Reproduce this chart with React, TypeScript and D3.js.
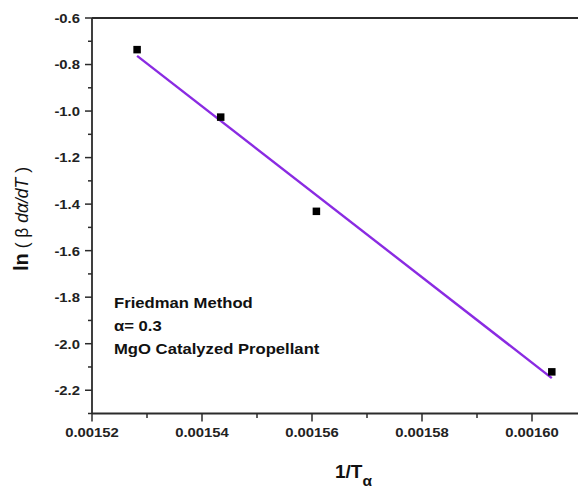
import React from "react";
import * as d3 from "d3";

// Friedman isoconversional analysis, alpha = 0.3
const invT: number[] = [0.0015282, 0.0015434, 0.0015608, 0.0016036];
const lnRate: number[] = [-0.736, -1.026, -1.431, -2.121];

const xMajorTicks: number[] = [0.00152, 0.00154, 0.00156, 0.00158, 0.0016];
const xMinorTicks: number[] = [0.00153, 0.00155, 0.00157, 0.00159];
const yMajorTicks: number[] = [-0.6, -0.8, -1.0, -1.2, -1.4, -1.6, -1.8, -2.0, -2.2];
const yMinorTicks: number[] = [-0.7, -0.9, -1.1, -1.3, -1.5, -1.7, -1.9, -2.1, -2.3];

const notes: string[] = ["Friedman Method", "\u03b1= 0.3", "MgO Catalyzed Propellant"];

const W = 578;
const H = 488;
const FONT = "'Liberation Sans', Arial, Helvetica, sans-serif";

export default function App() {
  const left = 92;
  const top = 18;
  const bottom = 413.5;

  const x = d3.scaleLinear().domain([0.00152, 0.0016]).range([left, left + 440]);
  const y = d3.scaleLinear().domain([-2.3, -0.6]).range([bottom, top]);

  // least-squares fit of ln(beta dα/dT) against 1/T
  const mx = d3.mean(invT)!;
  const my = d3.mean(lnRate)!;
  const sxy = d3.sum(invT.map((v, i) => (v - mx) * (lnRate[i] - my)));
  const sxx = d3.sum(invT.map((v) => (v - mx) * (v - mx)));
  const slope = sxy / sxx;
  const intercept = my - slope * mx;
  const [x0, x1] = d3.extent(invT) as [number, number];
  const fitLine = d3.line<number>()
    .x((v) => x(v))
    .y((v) => y(intercept + slope * v));

  const axisColor = "#2b2b2b";
  const fmtX = d3.format(".5f");
  const fmtY = (v: number) => v.toFixed(1);
  const sq = 7.5;

  return (
    <svg
      width={W}
      height={H}
      style={{ position: "absolute", left: 0, top: 0, background: "#fff" }}
      fontFamily={FONT}
    >
      {/* frame */}
      <line x1={left} x2={W + 5} y1={top} y2={top} stroke={axisColor} strokeWidth={1.8} />
      <line x1={left} x2={left} y1={top} y2={bottom} stroke={axisColor} strokeWidth={1.8} />
      <line x1={left} x2={W + 5} y1={bottom} y2={bottom} stroke={axisColor} strokeWidth={1.8} />

      {/* y ticks */}
      {yMajorTicks.map((t) => (
        <g key={"ym" + t}>
          <line x1={left - 7} x2={left} y1={y(t)} y2={y(t)} stroke={axisColor} strokeWidth={1.5} />
          <text
            transform={`translate(${left - 12},${y(t)}) scale(1.1,1)`}
            dy="0.36em"
            textAnchor="end"
            fontSize={13.5}
            fontWeight="bold"
            fill="#222"
          >
            {fmtY(t)}
          </text>
        </g>
      ))}
      {yMinorTicks.map((t) => (
        <line key={"yn" + t} x1={left - 4} x2={left} y1={y(t)} y2={y(t)} stroke={axisColor} strokeWidth={1.5} />
      ))}

      {/* x ticks */}
      {xMajorTicks.map((t) => (
        <g key={"xm" + t}>
          <line x1={x(t)} x2={x(t)} y1={bottom} y2={bottom + 8} stroke={axisColor} strokeWidth={1.5} />
          <text
            transform={`translate(${x(t)},437) scale(1.1,1)`}
            textAnchor="middle"
            fontSize={13.5}
            fontWeight="bold"
            fill="#222"
          >
            {fmtX(t)}
          </text>
        </g>
      ))}
      {xMinorTicks.map((t) => (
        <line key={"xn" + t} x1={x(t)} x2={x(t)} y1={bottom} y2={bottom + 4.5} stroke={axisColor} strokeWidth={1.5} />
      ))}

      {/* fitted line */}
      <path d={fitLine([x0, x1]) ?? ""} fill="none" stroke="#8a2be2" strokeWidth={2.4} />

      {/* data points */}
      {invT.map((v, i) => (
        <rect
          key={"p" + i}
          x={x(v) - sq / 2}
          y={y(lnRate[i]) - sq / 2}
          width={sq}
          height={sq}
          fill="#000"
        />
      ))}

      {/* annotation */}
      {notes.map((s, i) => (
        <text
          key={"n" + i}
          transform={`translate(114,${308 + i * 23}) scale(1.19,1)`}
          fontSize={14}
          fontWeight="bold"
          fill="#111"
        >
          {s}
        </text>
      ))}

      {/* x axis title */}
      <text x={335} y={478} fontWeight="bold" fill="#111">
        <tspan fontSize={19}>1/T</tspan>
        <tspan fontSize={15.5} dy={8}>{"\u03b1"}</tspan>
      </text>

      {/* y axis title */}
      <text transform="translate(28,219) rotate(-90)" textAnchor="middle" fill="#111">
        <tspan fontSize={20} fontWeight="bold">ln</tspan>
        <tspan fontSize={17.5}>{" ( \u03b2 "}</tspan>
        <tspan fontSize={17.5} fontStyle="italic">{"d\u03b1/dT"}</tspan>
        <tspan fontSize={17.5}>{" )"}</tspan>
      </text>
    </svg>
  );
}
